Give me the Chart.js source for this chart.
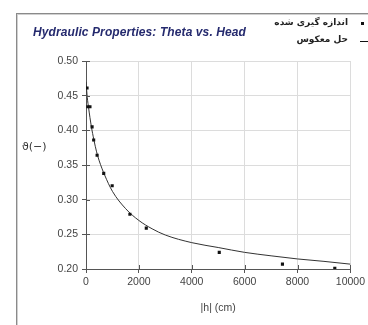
<!DOCTYPE html>
<html>
<head>
<meta charset="utf-8">
<script src="https://cdn.jsdelivr.net/npm/chart.js@4.4.0/dist/chart.umd.min.js"></script>
<style>
  html, body { margin: 0; padding: 0; background: #fff; }
  #wrap { position: relative; width: 368px; height: 325px; overflow: hidden; }
  #frame { position: absolute; left: 16px; top: 13px; width: 400px; height: 400px;
           border-top: 1px solid #8a8a8a; border-left: 1px solid #8a8a8a;
           box-shadow: inset 1px 1px 0 #d0d0d0; }
  canvas { position: absolute; left: 0; top: 0; }
  .title { position: absolute; left: 33px; top: 25px; font: italic bold 12px "Liberation Sans", Arial, sans-serif;
           color: #252a6e; white-space: nowrap; letter-spacing: 0.1px; }
  .ylab { position: absolute; left: 22px; top: 140px; font: 11px "DejaVu Sans", sans-serif; color: #333; }
  .leg { position: absolute; right: 20px; font: bold 9px "DejaVu Sans", sans-serif; color: #222;
         direction: rtl; white-space: nowrap; }
  .mk { position: absolute; background: #111; }
</style>
</head>
<body>
<div id="wrap">
  <div id="frame"></div>
  <canvas id="c" width="368" height="325"></canvas>
  <div class="title" id="title"></div>
  <div class="ylab" id="ylab"></div>
  <div class="leg" id="leg1" style="top:17px"></div>
  <div class="leg" id="leg2" style="top:34px"></div>
  <div class="mk" style="left:361px; top:22px; width:3px; height:3px"></div>
  <div class="mk" style="left:360px; top:41px; width:8px; height:1px"></div>
</div>
<script>
// measured points
const measuredH = [40, 70, 150, 230, 290, 420, 670, 990, 1660, 2280, 5040, 7430, 9410];
const measuredTheta = [0.461, 0.434, 0.434, 0.405, 0.386, 0.364, 0.338, 0.320, 0.279, 0.259, 0.224, 0.207, 0.201];

// fitted curve
const fitH = [0, 50, 100, 200, 300, 400, 500, 700, 1000, 1500, 2000, 2500, 3000, 4000, 5000, 6000, 7000, 8000, 9000, 10000];
const fitTheta = [0.470, 0.447, 0.432, 0.406, 0.386, 0.369, 0.356, 0.336, 0.312, 0.287, 0.270, 0.258, 0.249, 0.238, 0.231, 0.224, 0.219, 0.2145, 0.211, 0.207];

const seriesNames = ['اندازه گیری شده', 'حل معکوس'];
const chartTitle = 'Hydraulic Properties:  Theta vs. Head';
const xTitle = '|h| (cm)';
const yTitle = 'ϑ(−)';

document.getElementById('title').textContent = chartTitle;
document.getElementById('ylab').textContent = yTitle;
document.getElementById('leg1').textContent = seriesNames[0];
document.getElementById('leg2').textContent = seriesNames[1];

// small tick marks poking inside the plot, like the original
const innerTicks = {
  id: 'innerTicks',
  afterDraw(chart) {
    const { ctx, chartArea, scales } = chart;
    ctx.save();
    ctx.strokeStyle = '#555';
    ctx.lineWidth = 1;
    ctx.beginPath();
    for (const t of scales.x.ticks) {
      const px = Math.round(scales.x.getPixelForValue(t.value)) + 0.5;
      ctx.moveTo(px, chartArea.bottom);
      ctx.lineTo(px, chartArea.bottom - 4);
    }
    for (const t of scales.y.ticks) {
      const py = Math.round(scales.y.getPixelForValue(t.value)) + 0.5;
      ctx.moveTo(chartArea.left, py);
      ctx.lineTo(chartArea.left + 4, py);
    }
    ctx.stroke();
    ctx.restore();
  }
};

const tickFont = { family: 'Liberation Sans, Arial, sans-serif', size: 10.5 };

new Chart(document.getElementById('c'), {
  type: 'scatter',
  data: {
    datasets: [
      {
        label: seriesNames[0],
        data: measuredH.map((h, i) => ({ x: h, y: measuredTheta[i] })),
        pointStyle: 'rect',
        pointRadius: 2.2,
        backgroundColor: '#111',
        borderColor: '#111',
        borderWidth: 0
      },
      {
        label: seriesNames[1],
        data: fitH.map((h, i) => ({ x: h, y: fitTheta[i] })),
        showLine: true,
        pointRadius: 0,
        borderColor: '#333',
        borderWidth: 1,
        cubicInterpolationMode: 'monotone'
      }
    ]
  },
  options: {
    responsive: false,
    animation: false,
    layout: { padding: { left: 0, top: 61, right: 15, bottom: 0 } },
    plugins: { legend: { display: false }, tooltip: { enabled: false } },
    scales: {
      x: {
        type: 'linear',
        min: 0, max: 10000,
        afterFit(s) { s.height = 56; },
        ticks: { stepSize: 2000, color: '#444', font: tickFont, padding: 3, maxRotation: 0,
                 callback: v => String(v) },
        grid: { color: '#dcdcdc', tickColor: '#555', tickLength: 4 },
        border: { color: '#555', width: 1 },
        title: { display: true, text: xTitle, color: '#444', font: tickFont, padding: { top: 0, bottom: 11 } }
      },
      y: {
        min: 0.2, max: 0.5,
        afterFit(s) { s.width = 86; },
        ticks: { stepSize: 0.05, color: '#444', font: tickFont, padding: 4,
                 callback: v => v.toFixed(2) },
        grid: { color: '#dcdcdc', tickColor: '#555', tickLength: 4 },
        border: { color: '#555', width: 1 }
      }
    }
  },
  plugins: [innerTicks]
});
</script>
</body>
</html>
